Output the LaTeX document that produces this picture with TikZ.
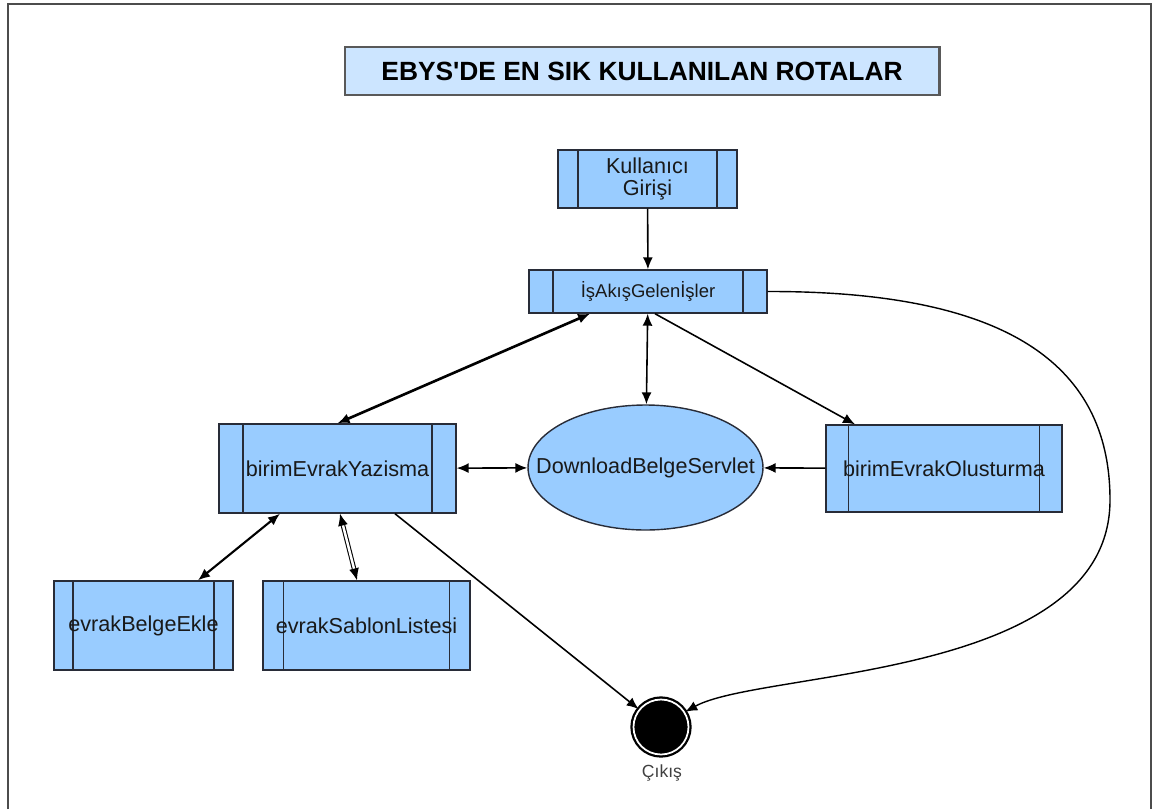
\documentclass[tikz,border=0pt]{standalone}
\usepackage{fontspec}
\setmainfont{Liberation Sans}
\newfontfamily\baslikfont{Liberation Sans}
\usetikzlibrary{arrows.meta,positioning,shapes.geometric}
\definecolor{BoxBlue}{RGB}{153,204,255}
\definecolor{TitleBlue}{RGB}{204,229,255}
\definecolor{EdgeGray}{RGB}{40,44,56}
\begin{document}
\begin{tikzpicture}[x=0.02cm,y=-0.02cm,>={Latex[length=2.4mm,width=2mm]},
  rota/.style={draw=EdgeGray,line width=0.8pt,fill=BoxBlue,inner sep=0pt,text=black!90,font=\fontsize{12.3}{13}\selectfont,
    path picture={\draw[EdgeGray,line width=0.8pt] ([xshift=#1]path picture bounding box.north west)--([xshift=#1]path picture bounding box.south west) ([xshift=-#1]path picture bounding box.north east)--([xshift=-#1]path picture bounding box.south east);}},
  rota/.default=0.46cm,
  yol/.style={line width=0.9pt,black}]
\useasboundingbox (0,0) rectangle (1153,809);
\draw[gray!60!black,line width=1pt] (8,809) -- (8,4) -- (1151,4) -- (1151,809);
\node[draw=gray!70!black,line width=1.2pt,fill=TitleBlue,minimum width=11.9cm,minimum height=0.96cm,font=\baslikfont\bfseries\fontsize{15}{18}\selectfont] (baslik) at (642,71) {EBYS'DE EN SIK KULLANILAN ROTALAR};
\node[rota=0.4cm,minimum width=3.58cm,minimum height=1.16cm,align=center] (giris) at (647.5,179) {Kullanıcı\\Girişi};
\node[rota=0.48cm,minimum width=4.76cm,minimum height=0.86cm,font=\fontsize{10.5}{12}\selectfont] (isakis) at (648,291.5) {İşAkışGelenİşler};
\node[rota=0.48cm,minimum width=4.74cm,minimum height=1.78cm] (yazisma) at (337.5,468.5) {birimEvrakYazisma};
\node[ellipse,draw=EdgeGray,line width=0.8pt,fill=BoxBlue,minimum width=4.7cm,minimum height=2.5cm,inner sep=0pt,
  label={[text=black!90,font=\fontsize{12.3}{13}\selectfont]center:DownloadBelgeServlet}] (servlet) at (645.5,467.5) {};
\node[rota=0.45cm,minimum width=4.72cm,minimum height=1.74cm] (olusturma) at (944,468.5) {birimEvrakOlusturma};
\node[rota=0.38cm,minimum width=3.58cm,minimum height=1.78cm] (belgeekle) at (143.5,625.5) {evrakBelgeEkle};
\node[rota=0.41cm,minimum width=4.14cm,minimum height=1.78cm] (sablon) at (366.5,625.5) {evrakSablonListesi};
\node[circle,fill=black,draw=black,line width=1.3pt,double=white,double distance=1pt,minimum size=1.1cm,inner sep=0pt] (cikis) at (661,727) {};
\node[font=\fontsize{10}{12}\selectfont,text=black!75] (cikisyazi) at (662,773) {Çıkış};
\draw[yol,->] (giris) -- (isakis);
\draw[yol,<->,line width=1.5pt] ([xshift=-1.16cm]isakis.south) -- (yazisma.north);
\draw[yol,<->] (isakis) -- (servlet);
\draw[yol,->] ([xshift=0.14cm]isakis.south) -- ([xshift=-1.78cm]olusturma.north);
\draw[yol,<->] (yazisma) -- (servlet);
\draw[yol,->] (olusturma) -- (servlet);
\draw[yol,<->,line width=1.2pt] ([xshift=-1.15cm]yazisma.south) -- ([xshift=1.09cm]belgeekle.north);
\draw[yol,<->,double,double distance=1.4pt,line width=0.6pt] ([xshift=0.05cm]yazisma.south) -- ([xshift=-0.19cm]sablon.north);
\draw[yol,->] ([xshift=1.15cm]yazisma.south) -- (cikis);
\draw[yol,->,line width=0.8pt] (isakis.east) .. controls (1000,291) and (1110,360) .. (1110,500) .. controls (1110,680) and (760,670) .. (cikis.32);
\end{tikzpicture}
\end{document}
